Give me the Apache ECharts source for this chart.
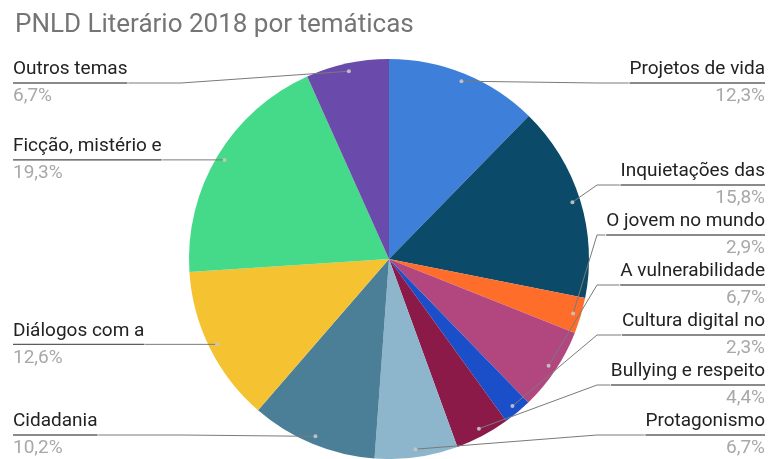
<!DOCTYPE html>
<html>
<head>
<meta charset="utf-8">
<script src="https://cdn.jsdelivr.net/npm/echarts@6/dist/echarts.min.js"></script>
<style>
  html, body { margin: 0; padding: 0; background: #fff; }
  #chart { width: 770px; height: 459px; }
</style>
</head>
<body>
<div id="chart"></div>
<script>
// Themes of the PNLD Literário 2018 collection, clockwise from 12 o'clock
const themes = [
  'Projetos de vida', 'Inquietações das', 'O jovem no mundo', 'A vulnerabilidade',
  'Cultura digital no', 'Bullying e respeito', 'Protagonismo', 'Cidadania',
  'Diálogos com a', 'Ficção, mistério e', 'Outros temas'
];
const shares = [12.3, 15.8, 2.9, 6.7, 2.3, 4.4, 6.7, 10.2, 12.6, 19.3, 6.7];
const sliceColors = [
  '#3d7fd9', '#0c4a69', '#ff6d2a', '#b2467f', '#1b4fca', '#8b1a49',
  '#8db5cb', '#4b7f98', '#f5c232', '#45d98a', '#6a4aab'
];

// Pie geometry
const CX = 389, CY = 259, R = 200;
const ANCHOR_R = 192;      // where leader lines start, inside each slice
const BEND_GAP = 8;        // horizontal leg begins just outside the pie
const LEFT_X = 13, RIGHT_X = 765;
const MIN_Y = 83, MAX_Y = 435, GAP = 50;

// Mid value of each slice along the circle, and the matching anchor point
const total = shares.reduce((a, b) => a + b, 0);
let acc = 0;
const mids = shares.map(v => { const m = acc + v / 2; acc += v; return m; });
const anchors = mids.map(m => {
  const ang = m / total * Math.PI * 2;
  return { x: CX + ANCHOR_R * Math.sin(ang), y: CY - ANCHOR_R * Math.cos(ang), right: Math.sin(ang) >= 0 };
});

// Label rows: start at the anchor height, then spread so rows never overlap
const rowY = anchors.map(a => Math.min(MAX_Y, Math.max(MIN_Y, a.y)));
['right', 'left'].forEach(side => {
  const idx = anchors.map((a, i) => i).filter(i => (anchors[i].right ? 'right' : 'left') === side)
    .sort((a, b) => rowY[a] - rowY[b]);
  for (let k = idx.length - 2; k >= 0; k--) {
    rowY[idx[k]] = Math.min(rowY[idx[k]], rowY[idx[k + 1]] - GAP);
  }
  for (let k = 1; k < idx.length; k++) {
    rowY[idx[k]] = Math.max(rowY[idx[k]], rowY[idx[k - 1]] + GAP);
  }
});

const pieBase = {
  type: 'pie',
  center: [CX, CY],
  radius: R,
  startAngle: 90,
  clockwise: true,
  silent: true,
  avoidLabelOverlap: false
};

const chart = echarts.init(document.getElementById('chart'), null, { renderer: 'canvas' });
chart.setOption({
  backgroundColor: '#ffffff',
  animation: false,
  title: {
    text: 'PNLD Literário 2018 por temáticas',
    left: 10, top: 7,
    textStyle: { fontFamily: 'Roboto', fontSize: 26, fontWeight: 'normal', color: '#757575' }
  },
  // hidden polar frame sharing the pie's centre, used to place the leader-line dots
  polar: { center: [CX, CY], radius: R },
  angleAxis: { type: 'value', min: 0, max: total, startAngle: 90, clockwise: true, show: false },
  radiusAxis: { type: 'value', min: 0, max: R, show: false },
  series: [
    // coloured slices
    Object.assign({}, pieBase, {
      z: 2,
      itemStyle: { borderWidth: 0 },
      label: { show: false },
      labelLine: { show: false },
      data: themes.map((name, i) => ({ name, value: shares[i], itemStyle: { color: sliceColors[i] } }))
    }),
    // same slices, transparent, carrying the labels so their leader lines sit above the colours
    Object.assign({}, pieBase, {
      z: 4,
      itemStyle: { color: 'rgba(0,0,0,0)', borderWidth: 0 },
      data: themes.map((name, i) => ({ name, value: shares[i] })),
      label: {
        show: true,
        position: 'outside',
        formatter: p => '{name|' + p.name + '}\n{hr|}\n{pct|' + p.value.toFixed(1).replace('.', ',') + '%}',
        rich: {
          name: { fontFamily: 'Roboto', fontSize: 19, color: '#222222', lineHeight: 27 },
          hr: { borderColor: '#4a4a4a', borderWidth: 0.8, width: '100%', height: 0, lineHeight: 0 },
          pct: { fontFamily: 'Roboto', fontSize: 19, color: '#a8a8a8', lineHeight: 27 }
        }
      },
      labelLine: { show: true, showAbove: true, lineStyle: { color: '#7a7a7a', width: 1 } },
      labelLayout: params => {
        const i = params.dataIndex;
        const a = anchors[i];
        const y = rowY[i];
        const w = params.labelRect.width;
        if (a.right) {
          const bend = Math.max(CX + R + BEND_GAP, a.x);
          return {
            x: RIGHT_X, y, align: 'right', verticalAlign: 'middle',
            labelLinePoints: [[a.x, a.y], [bend, y], [RIGHT_X - w, y]]
          };
        }
        const bend = Math.min(CX - R - BEND_GAP, a.x);
        return {
          x: LEFT_X, y, align: 'left', verticalAlign: 'middle',
          labelLinePoints: [[a.x, a.y], [bend, y], [LEFT_X + w, y]]
        };
      }
    }),
    {
      type: 'scatter',
      coordinateSystem: 'polar',
      z: 5,
      silent: true,
      symbolSize: 4,
      itemStyle: { color: '#c8c8c8', opacity: 0.9 },
      data: mids.map(m => [ANCHOR_R, m])
    }
  ]
});
</script>
</body>
</html>
